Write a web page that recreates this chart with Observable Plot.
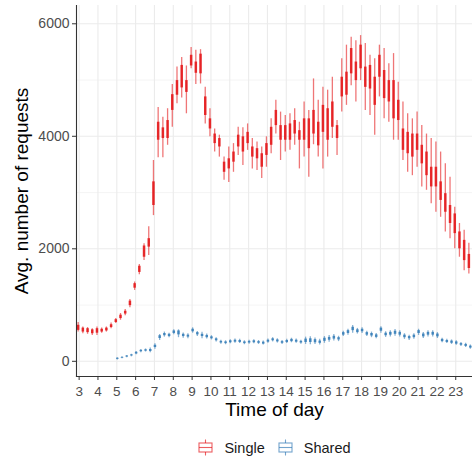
<!DOCTYPE html>
<html><head><meta charset="utf-8">
<script src="https://cdn.jsdelivr.net/npm/d3@7"></script>
<script src="https://cdn.jsdelivr.net/npm/@observablehq/plot@0.6"></script>
<style>
body{margin:0;background:#fff;font-family:"Liberation Sans",Arial,sans-serif;}
#chart{width:472px;height:464px;position:relative;overflow:hidden;}
.legend{display:flex;justify-content:center;align-items:center;height:39px;padding-left:76px;padding-top:6px;box-sizing:border-box;font-size:14.5px;color:#1a1a1a;}
.item{display:flex;align-items:center;margin:0 6px;}
.item svg{margin-right:10px;}
</style></head><body><div id="chart"></div><script>
// ---------- data ----------
const seriesNames = ["Single", "Shared"];
const seriesColors = ["#E41A1C", "#377EB8"];
const xTicks = [3,4,5,6,7,8,9,10,11,12,13,14,15,16,17,18,19,20,21,22,23];
const yTicks = [0,2000,4000,6000];
const yMinor = [1000,3000,5000];
const xTitle = "Time of day";
const yTitle = "Avg. number of requests";

const singleTime = [3,3.25,3.5,3.75,4,4.25,4.5,4.75,5,5.25,5.5,5.75,6,6.25,6.5,6.75,7,7.25,7.5,7.75,8,8.25,8.5,8.75,9,9.25,9.5,9.75,10,10.25,10.5,10.75,11,11.25,11.5,11.75,12,12.25,12.5,12.75,13,13.25,13.5,13.75,14,14.25,14.5,14.75,15,15.25,15.5,15.75,16,16.25,16.5,16.75,17,17.25,17.5,17.75,18,18.25,18.5,18.75,19,19.25,19.5,19.75,20,20.25,20.5,20.75,21,21.25,21.5,21.75,22,22.25,22.5,22.75,23,23.25,23.5,23.75];
const singleLo = [520,490,480,460,460,500,520,580, 670,730,810,950, 1260,1540,1790,1880, 2590,3620,3620,3840, 4160,4580,4680,4400, 5200,4920,4930,4220, 3990,3720,3630,3220, 3180,3360,3660,3480, 3750,3420,3390,3250, 3450,3690,4040,3570, 3720,3750,3840,3420, 3630,3270,3850,3630, 3420,3630,3960,3660, 4430,4550,4900,4610, 4990,4460,4370,4020, 4700,4310,4250,3930, 3930,3570,3360,3300, 3450,3100,3040,2800, 2650,2560,2300,2180, 2000,1850,1610,1550];
const singleQ1 = [550,520,510,490,500,520,540,600, 690,760,840,990, 1300,1580,1850,2030, 2770,3930,3960,3960, 4460,4730,4860,4780, 5250,5120,5110,4370, 4130,3870,3810,3360, 3420,3540,3810,3720, 3870,3630,3600,3450, 3660,3840,4190,3930, 3930,3930,4040,3930, 3930,3780,4040,3830, 4070,3930,4160,3960, 4700,4730,5110,4990, 5200,4870,4840,4550, 5050,4670,4610,4310, 4280,3750,3690,3630, 3750,3510,3300,3100, 3100,2860,2650,2450, 2270,2000,1790,1650];
const singleQ3 = [640,590,580,560,580,570,590,650, 740,820,890,1070, 1380,1690,2050,2180, 3190,4250,4150,4280, 4740,4990,5260,4990, 5440,5320,5460,4700, 4310,4040,3960,3540, 3600,3720,4020,3990, 4070,3810,3780,3690, 3870,4160,4460,4190, 4190,4220,4280,4100, 4310,4310,4460,4250, 4550,4490,4610,4190, 5050,5140,5560,5320, 5620,5230,5260,5050, 5440,5170,4990,4990, 4640,4130,4070,4040, 4040,3840,3720,3450, 3450,3190,2980,2770, 2620,2300,2150,1900];
const singleHi = [690,610,600,580,610,590,610,680, 760,850,920,1100, 1410,1720,2090,2390, 3570,4510,4340,4490, 4920,5230,5400,5250, 5580,5530,5540,4870, 4490,4130,4020,3630, 3810,3870,4160,4150, 4220,3960,3900,3810, 3990,4310,4640,4430, 4370,4400,4490,4250, 4610,4460,5020,4640, 4870,4820,5050,4280, 5380,5620,5760,5700, 5790,5650,5440,5380, 5620,5560,5290,5470, 4960,4610,4400,4310, 4430,4190,4040,3960, 3900,3720,3510,3270, 2740,2450,2330,2100];

const sharedTime = [5,5.25,5.5,5.75,6,6.25,6.5,6.75,7,7.25,7.5,7.75,8,8.25,8.5,8.75,9,9.25,9.5,9.75,10,10.25,10.5,10.75,11,11.25,11.5,11.75,12,12.25,12.5,12.75,13,13.25,13.5,13.75,14,14.25,14.5,14.75,15,15.25,15.5,15.75,16,16.25,16.5,16.75,17,17.25,17.5,17.75,18,18.25,18.5,18.75,19,19.25,19.5,19.75,20,20.25,20.5,20.75,21,21.25,21.5,21.75,22,22.25,22.5,22.75,23,23.25,23.5,23.75];
const sharedLo = [25,45,65,80, 115,150,165,150, 215,370,430,420, 470,420,410,400, 500,440,400,395, 380,345,305,295, 310,320,315,295, 305,310,300,290, 320,345,325,300, 315,330,320,305, 300,295,300,290, 320,340,360,350, 440,465,500,485, 495,440,420,400, 500,425,430,445, 430,390,370,390, 460,405,430,430, 405,330,315,300, 285,265,245,215];
const sharedQ1 = [35,55,75,95, 130,170,180,175, 245,405,455,440, 495,470,440,430, 525,470,440,420, 400,365,325,315, 330,340,335,315, 325,330,320,305, 340,365,345,320, 335,350,340,325, 335,335,330,320, 355,375,395,380, 465,495,545,510, 525,465,450,425, 535,455,465,480, 465,420,400,420, 495,435,465,465, 435,350,335,320, 305,285,265,235];
const sharedQ3 = [55,70,95,115, 160,195,205,210, 285,455,495,480, 540,540,480,465, 570,510,480,460, 435,400,355,345, 365,375,370,345, 355,365,350,340, 375,400,380,350, 370,390,375,355, 395,400,385,360, 410,425,445,420, 510,545,605,560, 570,510,495,470, 590,500,515,535, 515,465,440,465, 545,485,515,515, 485,390,370,360, 345,315,300,270];
const sharedHi = [65,80,105,125, 175,210,220,235, 310,475,520,500, 560,560,505,490, 595,530,518,485, 455,420,375,365, 385,395,390,365, 375,385,370,360, 395,420,400,370, 390,410,395,375, 430,435,415,390, 440,460,475,445, 535,570,636,585, 595,535,520,495, 615,525,545,565, 545,490,465,490, 570,510,545,545, 510,410,390,380, 365,335,320,290];

// ---------- build ----------
const xLimits = [2.86, 23.89];
const yLimits = [-270, 6325];
const single = singleTime.map((t, i) => ({series: "Single", t, lo: singleLo[i], q1: singleQ1[i], q3: singleQ3[i], hi: singleHi[i]}));
const shared = sharedTime.map((t, i) => ({series: "Shared", t, lo: sharedLo[i], q1: sharedQ1[i], q3: sharedQ3[i], hi: sharedHi[i]}));

function boxMarks(rows, dx) {
  return [
    Plot.ruleX(rows, {x: "t", y1: "lo", y2: "hi", stroke: "series", strokeWidth: 1.3, strokeOpacity: 0.6, dx}),
    Plot.ruleX(rows, {x: "t", y1: "q1", y2: "q3", stroke: "series", strokeWidth: 2.5, strokeOpacity: 0.9, dx})
  ];
}

const plot = Plot.plot({
  width: 472, height: 425,
  marginLeft: 76, marginRight: 0, marginTop: 5, marginBottom: 49,
  style: {fontFamily: "'Liberation Sans', Arial, sans-serif", fontSize: "14px", background: "#fff", overflow: "visible"},
  x: {domain: xLimits, label: null},
  y: {domain: yLimits, label: null},
  color: {domain: seriesNames, range: seriesColors},
  marks: [
    Plot.gridY(yMinor, {stroke: "#ebebeb", strokeOpacity: 1, strokeWidth: 0.55}),
    Plot.gridY(yTicks, {stroke: "#ebebeb", strokeOpacity: 1, strokeWidth: 1.1}),
    Plot.gridX(xTicks, {stroke: "#ebebeb", strokeOpacity: 1, strokeWidth: 1.1}),
    ...boxMarks(single, -1),
    ...boxMarks(shared, 0.5),
    Plot.frame({anchor: "left", stroke: "#333", strokeWidth: 1.1}),
    Plot.frame({anchor: "bottom", stroke: "#333", strokeWidth: 1.1}),
    Plot.axisX(xTicks, {tickSize: 4, tickPadding: 6, fontSize: 13.5, fill: "#4D4D4D", stroke: "#333", label: null, tickFormat: d3.format("d")}),
    Plot.axisY(yTicks, {tickSize: 4, tickPadding: 3, fontSize: 14, fill: "#4D4D4D", stroke: "#333", label: null, tickFormat: d3.format("d")}),
    Plot.text([yTitle], {frameAnchor: "left", dx: -55, rotate: -90, textAnchor: "middle", fontSize: 19, fill: "#000"}),
    Plot.text([xTitle], {frameAnchor: "bottom", dy: 39, textAnchor: "middle", fontSize: 19, fill: "#000"})
  ]
});

const chart = document.getElementById("chart");
chart.appendChild(plot);

const legend = document.createElement("div");
legend.className = "legend";
seriesNames.forEach((name, i) => {
  const c = seriesColors[i];
  const item = document.createElement("div");
  item.className = "item";
  item.innerHTML = `<svg width="17" height="17" viewBox="0 0 17 17">
    <line x1="8.5" x2="8.5" y1="0.5" y2="4" stroke="${c}" stroke-opacity="0.7" stroke-width="1.1"/>
    <rect x="2" y="4" width="13" height="9" fill="#fff" stroke="${c}" stroke-opacity="0.7" stroke-width="1.1"/>
    <line x1="2" x2="15" y1="8.5" y2="8.5" stroke="${c}" stroke-opacity="0.7" stroke-width="1.1"/>
    <line x1="8.5" x2="8.5" y1="13" y2="16.5" stroke="${c}" stroke-opacity="0.7" stroke-width="1.1"/>
  </svg><span>${name}</span>`;
  legend.appendChild(item);
});
chart.appendChild(legend);
</script></body></html>
